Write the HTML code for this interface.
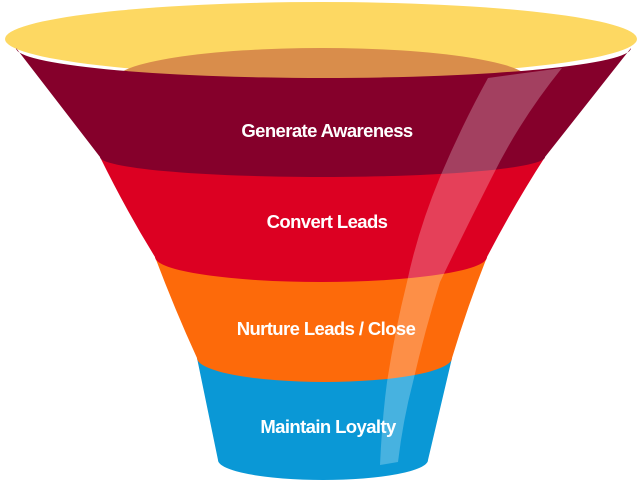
<!DOCTYPE html>
<html><head><meta charset="utf-8"><style>
html,body{margin:0;padding:0;background:#fff;width:642px;height:490px;overflow:hidden}
text{font-family:"Liberation Sans",sans-serif;font-weight:bold;fill:#fff;font-size:18.5px;letter-spacing:-0.6px}
</style></head><body>
<svg width="642" height="490" viewBox="0 0 642 490">
<ellipse cx="321" cy="39" rx="316" ry="37" fill="#fdd862"/>
<ellipse cx="322" cy="80" rx="207" ry="32" fill="#d98d4b"/>
<path d="M197,358 L218,460 A105 20 0 0 0 428,460 L452,358 Z" fill="#0a98d6"/>
<path d="M155,257 Q175,310 197,358 A127.5 24 0 0 0 452,358 Q468,305 487,257 Z" fill="#fd6a0a"/>
<path d="M100,157 Q126,210 155,257 A166 25 0 0 0 487,257 Q514,205 545,157 Z" fill="#dc0022"/>
<path d="M16,48 Q60,105 100,157 A222.5 20 0 0 0 545,157 Q590,100 631,48 A307.5 30 0 0 1 16,48 Z" fill="#85002b"/>
<path d="M488,78 L562,68 Q520,120 492,177 Q465,230 440,282 Q425,330 413,382 Q403,420 398,462 L380,465 Q382,420 387,382 Q395,330 407,282 Q418,230 440,177 Q462,125 488,78 Z" fill="#fff" opacity="0.25"/>
<text x="327" y="137" text-anchor="middle">Generate Awareness</text>
<text x="327" y="228" text-anchor="middle">Convert Leads</text>
<text x="326" y="335" text-anchor="middle">Nurture Leads / Close</text>
<text x="328" y="433" text-anchor="middle">Maintain Loyalty</text>
</svg>
</body></html>
